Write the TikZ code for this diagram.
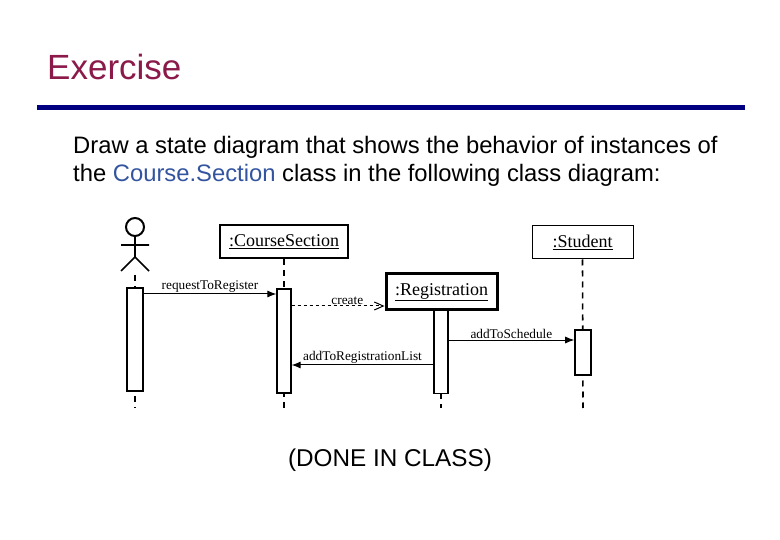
\documentclass[tikz,border=0pt]{standalone}
\usepackage{fontspec}
\setmainfont{Liberation Sans}
\newfontfamily\serifd{Liberation Serif}
\usetikzlibrary{arrows.meta}
\definecolor{titlered}{HTML}{8B1A4A}
\definecolor{navy}{HTML}{000080}
\definecolor{cblue}{HTML}{3355A0}
\begin{document}
\begin{tikzpicture}[x=1pt,y=-1pt,
  obj/.style={draw,inner sep=0pt,font=\serifd\fontsize{18}{20}\selectfont},
  life/.style={dashed,dash pattern=on 6pt off 5pt,line width=1.6pt},
  act/.style={draw,fill=white,line width=1.2pt},
  msg/.style={line width=1pt,-{Latex[length=9pt,width=7pt]}},
  lbl/.style={font=\serifd\fontsize{13.3}{14}\selectfont,inner sep=1pt}]
\useasboundingbox (0,0) rectangle (780,540);
\node[anchor=base west,text=titlered,font=\fontsize{35}{40}\selectfont,inner sep=0pt] (title) at (47,80) {Exercise};
\coordinate (l1) at (37,108); \coordinate (l2) at (745,108);
\draw[navy,line width=5pt] (l1) -- (l2);
\node[anchor=base west,inner sep=0pt,font=\fontsize{23.8}{28}\selectfont] (t1) at (73,154) {Draw a state diagram that shows the behavior of instances of};
\node[anchor=base west,inner sep=0pt,font=\fontsize{23.8}{28}\selectfont] (t2) at (73,182) {the \textcolor{cblue}{Course.Section} class in the following class diagram:};
% actor
\draw[line width=2pt] (135,227) circle (9);
\draw[line width=1.6pt] (135,236) -- (135,257) (121,245) -- (149,245) (121,271) -- (135,257) -- (149,271);
\coordinate (a0) at (135,275); \coordinate (a1) at (135,408);
\draw[life] (a0) -- (a1);
\node[act,minimum width=16pt,minimum height=103pt,inner sep=0pt] (aa) at (135,339.5) {};
% CourseSection
\node[obj,line width=1.8pt,minimum width=128pt,minimum height=33pt] (cs) at (284,241.5) {\underline{:CourseSection}};
\coordinate (c1) at (284,408);
\draw[life] (cs.south) -- (c1);
\node[act,minimum width=14pt,minimum height=104pt,inner sep=0pt] (ca) at (284,341) {};
% Registration
\node[obj,line width=3pt,minimum width=111pt,minimum height=36pt] (rg) at (441.5,292) {\underline{:Registration}};
\coordinate (r1) at (441,408);
\draw[life] (441,393) -- (r1);
\node[act,minimum width=14pt,minimum height=83pt,inner sep=0pt,anchor=north] (ra) at (441,310) {};
% Student
\node[obj,line width=1pt,minimum width=101pt,minimum height=33pt] (st) at (582.5,242.5) {\underline{:Student}};
\coordinate (s1) at (583,408);
\draw[life] (st.south) -- (s1);
\node[act,line width=1.6pt,minimum width=16pt,minimum height=45pt,inner sep=0pt] (sa) at (583,352.5) {};
% messages
\draw[msg] (aa.east |- 0,294) -- node[lbl,above] {requestToRegister} (ca.west |- 0,294);
\draw[line width=1pt,dashed,-{Straight Barb[length=9pt,width=8pt]}] (ca.east |- 0,306) -- node[lbl,above,pos=0.6] {create} (rg.west |- 0,306);
\draw[line width=0.8pt,-{Latex[length=9pt,width=7pt]}] (ra.east |- 0,340) -- node[lbl,above] {addToSchedule} (sa.west |- 0,340);
\draw[msg] (ra.west |- 0,365) -- node[lbl,above] {addToRegistrationList} (ca.east |- 0,365);
\node[font=\fontsize{24.3}{28}\selectfont] (done) at (390,460) {(DONE IN CLASS)};
\end{tikzpicture}
\end{document}
